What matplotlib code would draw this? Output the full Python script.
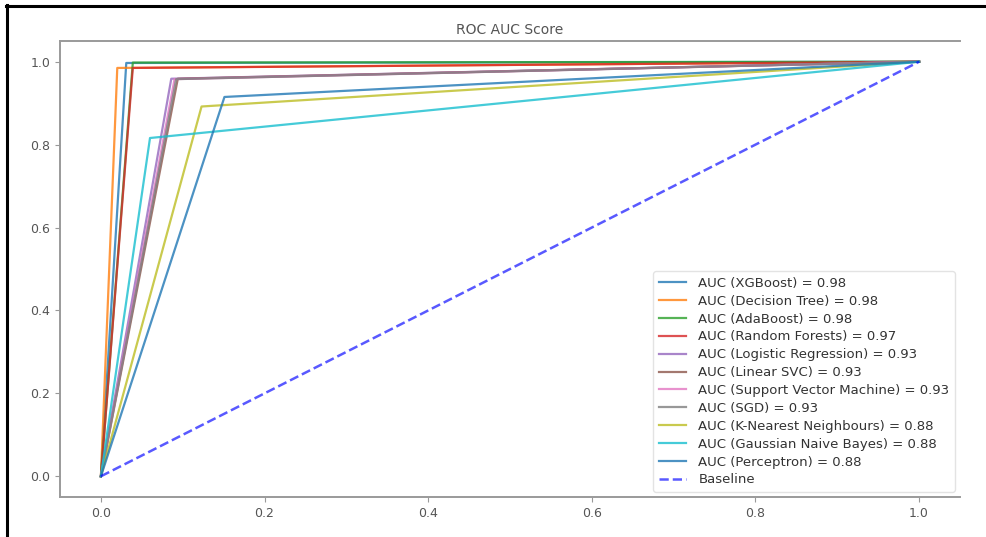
import matplotlib
matplotlib.use("Agg")
import matplotlib.pyplot as plt
from matplotlib.lines import Line2D

# model names, AUC shown in legend, and the ROC corner point (fpr, tpr)
models = ["XGBoost", "Decision Tree", "AdaBoost", "Random Forests",
          "Logistic Regression", "Linear SVC", "Support Vector Machine", "SGD",
          "K-Nearest Neighbours", "Gaussian Naive Bayes", "Perceptron"]
auc_scores = [0.98, 0.98, 0.98, 0.97, 0.93, 0.93, 0.93, 0.93, 0.88, 0.88, 0.88]
fpr_mid = [0.031, 0.020, 0.039, 0.039, 0.086, 0.094, 0.090, 0.092, 0.123, 0.060, 0.151]
tpr_mid = [0.997, 0.985, 0.998, 0.985, 0.959, 0.959, 0.958, 0.958, 0.892, 0.816, 0.915]
ticks = [0.0, 0.2, 0.4, 0.6, 0.8, 1.0]

W, H = 987, 537
fig = plt.figure(figsize=(W / 100, H / 100), dpi=100)
ax = fig.add_axes([60 / W, 1 - 497 / H, 900 / W, 456 / H])

for name, auc, fx, ty in zip(models, auc_scores, fpr_mid, tpr_mid):
    ax.plot([0, fx, 1], [0, ty, 1], lw=1.6, alpha=0.8,
            label=f"AUC ({name}) = {auc:.2f}")
ax.plot([0, 1], [0, 1], "b--", lw=1.8, alpha=0.65, label="Baseline")

ax.set_xticks(ticks)
ax.set_yticks(ticks)
ax.tick_params(labelsize=9, colors="#999999", labelcolor="#555555", length=3.5)
for side in ["left", "bottom", "top"]:
    ax.spines[side].set_color("#9a9a9a")
    ax.spines[side].set_linewidth(1.4)
ax.spines["right"].set_visible(False)
ax.set_title("ROC AUC Score", fontsize=10, color="#555555", pad=5)

leg = ax.legend(loc="lower right", fontsize=9.5, labelcolor="#333333",
                labelspacing=0.37, handlelength=2.1, handletextpad=0.9,
                borderaxespad=0.4)
leg.get_frame().set_edgecolor("#dddddd")

# black screenshot border on the left and top
fig.add_artist(Line2D([7 / W, 7 / W], [0, 1 - 5 / H], color="black", lw=2.2,
                      transform=fig.transFigure))
fig.add_artist(Line2D([6 / W, 1], [1 - 6 / H, 1 - 6 / H], color="black", lw=2.2,
                      transform=fig.transFigure))

fig.savefig("out.png", dpi=100)
